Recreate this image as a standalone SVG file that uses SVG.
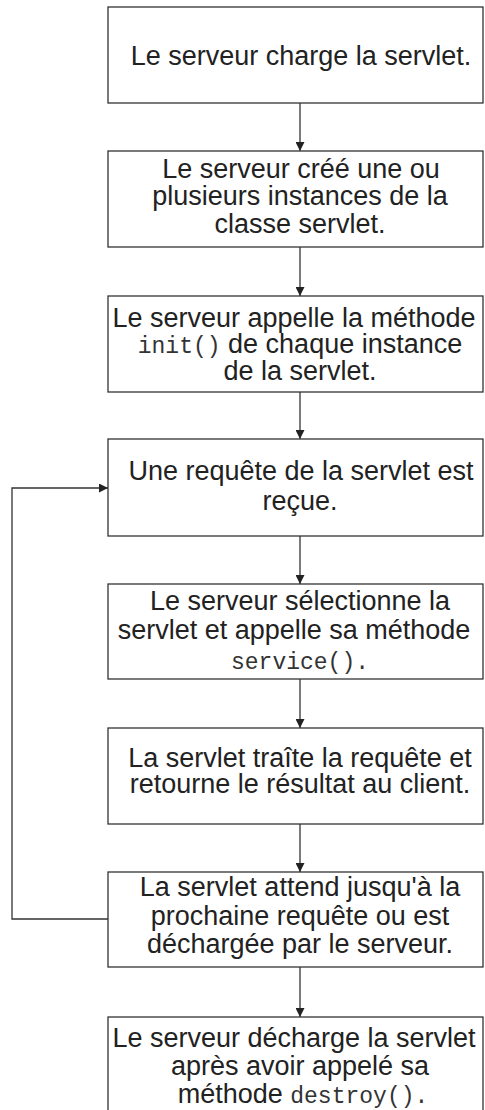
<svg xmlns="http://www.w3.org/2000/svg" width="485" height="1110" viewBox="0 0 485 1110">
  <style>
    .box { fill: #ffffff; stroke: #333333; stroke-width: 1.3; }
    .t { font-family: "Liberation Sans", Arial, sans-serif; font-size: 27px; fill: #222222; text-anchor: middle; }
    .m { font-family: "Liberation Mono", "Courier New", monospace; font-size: 23px; fill: #333333; }
    .c { fill: none; stroke: #333333; stroke-width: 1.3; }
  </style>
  <defs>
    <marker id="arr" viewBox="0 0 10 10" refX="10" refY="5" markerWidth="9" markerHeight="9" markerUnits="userSpaceOnUse" orient="auto">
      <path d="M0,0 L10,5 L0,10 z" fill="#222222"/>
    </marker>
  </defs>
  <rect width="485" height="1110" fill="#ffffff"/>

  <g id="connectors">
    <line class="c" x1="300" y1="103" x2="300" y2="151" marker-end="url(#arr)"/>
    <line class="c" x1="300" y1="247" x2="300" y2="296" marker-end="url(#arr)"/>
    <line class="c" x1="300" y1="392" x2="300" y2="439" marker-end="url(#arr)"/>
    <line class="c" x1="300" y1="536" x2="300" y2="584" marker-end="url(#arr)"/>
    <line class="c" x1="300" y1="679" x2="300" y2="728" marker-end="url(#arr)"/>
    <line class="c" x1="300" y1="824" x2="300" y2="872" marker-end="url(#arr)"/>
    <line class="c" x1="300" y1="967" x2="300" y2="1017" marker-end="url(#arr)"/>
    <polyline class="c" points="108,919 12,919 12,488 108,488" marker-end="url(#arr)"/>
  </g>

  <g id="n1">
    <rect class="box" x="108" y="7" width="375" height="96"/>
    <text class="t" x="301" y="65">Le serveur charge la servlet.</text>
  </g>

  <g id="n2">
    <rect class="box" x="108" y="151" width="375" height="96"/>
    <text class="t" x="301" y="178">Le serveur créé une ou</text>
    <text class="t" x="300" y="205">plusieurs instances de la</text>
    <text class="t" x="300" y="233">classe servlet.</text>
  </g>

  <g id="n3">
    <rect class="box" x="108" y="296" width="375" height="96"/>
    <text class="t" x="294" y="327">Le serveur appelle la méthode</text>
    <text class="t" x="300" y="353"><tspan class="m">init()</tspan> de chaque instance</text>
    <text class="t" x="300" y="380">de la servlet.</text>
  </g>

  <g id="n4">
    <rect class="box" x="108" y="439" width="375" height="97"/>
    <text class="t" x="301" y="480">Une requête de la servlet est</text>
    <text class="t" x="300" y="510">reçue.</text>
  </g>

  <g id="n5">
    <rect class="box" x="108" y="584" width="375" height="95"/>
    <text class="t" x="300" y="610">Le serveur sélectionne la</text>
    <text class="t" x="294" y="639">servlet et appelle sa méthode</text>
    <text class="t" x="300" y="669"><tspan class="m">service().</tspan></text>
  </g>

  <g id="n6">
    <rect class="box" x="108" y="728" width="375" height="96"/>
    <text class="t" x="300" y="767">La servlet traîte la requête et</text>
    <text class="t" x="300" y="793">retourne le résultat au client.</text>
  </g>

  <g id="n7">
    <rect class="box" x="108" y="872" width="375" height="95"/>
    <text class="t" x="300" y="896">La servlet attend jusqu'à la</text>
    <text class="t" x="300" y="925">prochaine requête ou est</text>
    <text class="t" x="300" y="953">déchargée par le serveur.</text>
  </g>

  <g id="n8">
    <rect class="box" x="108" y="1017" width="375" height="100"/>
    <text class="t" x="294" y="1047">Le serveur décharge la servlet</text>
    <text class="t" x="300" y="1075">après avoir appelé sa</text>
    <text class="t" x="303" y="1103">méthode <tspan class="m">destroy().</tspan></text>
  </g>
</svg>
